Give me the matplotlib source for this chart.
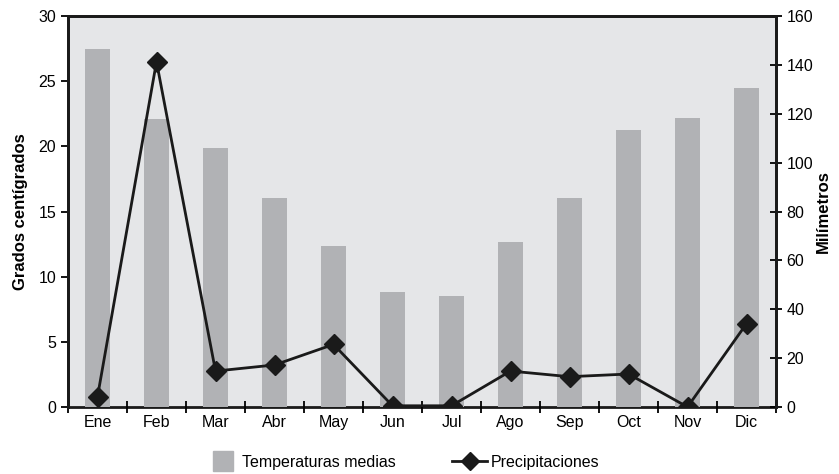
import matplotlib
matplotlib.use("Agg")
import matplotlib.pyplot as plt
from matplotlib.lines import Line2D
import numpy as np

months = ["Ene", "Feb", "Mar", "Abr", "May", "Jun", "Jul", "Ago", "Sep", "Oct", "Nov", "Dic"]
temperaturas = [27.5, 22.1, 19.9, 16.0, 12.35, 8.8, 8.5, 12.65, 16.0, 21.25, 22.2, 24.5]
precipitaciones = [4.2, 141.3, 14.7, 17.2, 25.6, 0.5, 0.5, 14.7, 12.4, 13.5, 0.0, 34.1]

plt.rcParams['font.family'] = ["Liberation Sans", "DejaVu Sans"]

fig = plt.figure(figsize=(8.39, 4.74), dpi=100)
ax = fig.add_axes([68/839, 1-407/474, (776-68)/839, (407-16)/474])
ax2 = ax.twinx()

x = np.arange(len(months))
bar_color = "#b1b2b5"
ax.set_facecolor("#e5e6e8")
ax.bar(x, temperaturas, width=0.41, color=bar_color, zorder=2)
ax2.plot(x, precipitaciones, color="#1a1a1a", lw=2, marker="D", ms=10, zorder=3)

ax.set_xlim(-0.5, 11.5)
ax.set_ylim(0, 30)
ax2.set_ylim(0, 160)
ax.set_yticks(range(0, 31, 5))
ax2.set_yticks(range(0, 161, 20))
ax.set_xticks(x)
ax.set_xticklabels(months)
ax.set_xticks(np.arange(-0.5, 12, 1), minor=True)
fs = 11.5
ax.tick_params(axis='x', which='major', length=0, labelsize=fs, pad=6)
ax.tick_params(axis='x', which='minor', length=8, width=1.3, direction='inout')
ax.tick_params(axis='y', length=5, width=1.3, direction='out', labelsize=fs)
ax2.tick_params(axis='y', length=8, width=1.3, direction='inout', labelsize=fs)

for a in (ax, ax2):
    for s in a.spines.values():
        s.set_linewidth(2)
        s.set_color("#1a1a1a")
ax.spines['bottom'].set_zorder(1)
ax2.spines['bottom'].set_visible(False)

ax.set_ylabel("Grados centígrados", fontsize=12, fontweight='bold')
ax.yaxis.set_label_coords(-0.057, 0.5)
ax2.set_ylabel("Milímetros", fontsize=12, fontweight='bold')
ax2.yaxis.set_label_coords(1.057, 0.5)

h_bar = Line2D([], [], ls='none', marker='s', ms=14, color=bar_color)
h_line = Line2D([], [], color="#1a1a1a", lw=2, marker="D", ms=9)
leg1 = fig.legend([h_bar], ["Temperaturas medias"], loc='center left',
                  bbox_to_anchor=(213/839, 1-462/474), frameon=False, fontsize=fs,
                  handlelength=1.2, handletextpad=0.6, borderpad=0, borderaxespad=0)
leg2 = fig.legend([h_line], ["Precipitaciones"], loc='center left',
                  bbox_to_anchor=(452/839, 1-462/474), frameon=False, fontsize=fs,
                  handlelength=2.2, handletextpad=0.2, borderpad=0, borderaxespad=0)

fig.savefig("out.png", dpi=100)
